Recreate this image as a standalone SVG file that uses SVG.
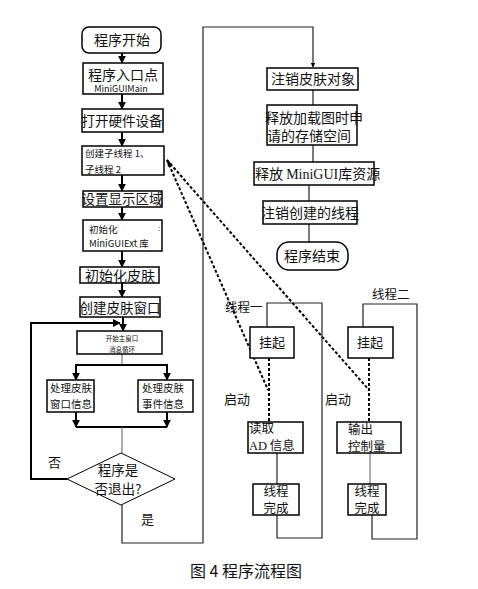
<svg xmlns="http://www.w3.org/2000/svg" width="478" height="589" viewBox="0 0 478 589">
<style>
.b{fill:#fff;stroke:#000;stroke-width:1.5}
.t{font-family:"Noto Sans CJK SC","Liberation Sans",sans-serif;fill:#111}
.s{font-family:"Liberation Serif","Noto Sans CJK SC",serif;fill:#111}
.l{fill:none;stroke:#222;stroke-width:1.2}
.a{fill:none;stroke:#000;stroke-width:2}
.d{fill:none;stroke:#000;stroke-width:2;stroke-dasharray:3,2}
.g{fill:none;stroke:#777;stroke-width:1.2}
</style>
<defs>
<marker id="ah" viewBox="0 0 10 10" refX="9" refY="5" markerWidth="4" markerHeight="4" orient="auto"><path d="M0,0L10,5L0,10z" fill="#000"/></marker>
</defs>
<rect width="478" height="589" fill="#fff"/>
<g id="connectors">
<line class="a" x1="122" y1="53" x2="122" y2="63" marker-end="url(#ah)"/>
<line class="a" x1="122" y1="94" x2="122" y2="109" marker-end="url(#ah)"/>
<line class="a" x1="122" y1="132" x2="122" y2="146" marker-end="url(#ah)"/>
<line class="a" x1="122" y1="175" x2="122" y2="191" marker-end="url(#ah)"/>
<line class="a" x1="122" y1="207" x2="122" y2="220" marker-end="url(#ah)"/>
<line class="a" x1="122" y1="251" x2="122" y2="267" marker-end="url(#ah)"/>
<line class="a" x1="122" y1="283" x2="122" y2="297" marker-end="url(#ah)"/>
<line class="a" x1="123" y1="317" x2="123" y2="331" marker-end="url(#ah)"/>
<polyline class="a" points="67,479 31,479 31,323 120,323" marker-end="url(#ah)"/>
<polyline class="g" points="122,354 122,365"/>
<polyline class="a" points="76,380 76,365 167,365 167,380"/>
<line class="a" x1="76" y1="366" x2="76" y2="380" marker-end="url(#ah)"/>
<line class="a" x1="167" y1="366" x2="167" y2="380" marker-end="url(#ah)"/>
<line class="a" x1="76" y1="412" x2="76" y2="427" marker-end="url(#ah)"/>
<line class="a" x1="167" y1="412" x2="167" y2="427" marker-end="url(#ah)"/>
<line class="a" x1="76" y1="427" x2="167" y2="427"/>
<line class="g" x1="122" y1="427" x2="122" y2="453"/>
<polyline class="l" points="122,505 122,543 203,543 203,27 313,27 313,67" marker-end="url(#ah)"/>
<line class="l" x1="313" y1="90" x2="313" y2="105"/>
<line class="l" x1="313" y1="145" x2="313" y2="162"/>
<line class="l" x1="309" y1="185" x2="309" y2="201"/>
<line class="l" x1="309" y1="224" x2="309" y2="242"/>
<line class="d" x1="167" y1="160" x2="268" y2="390"/>
<line class="d" x1="167" y1="160" x2="369" y2="390"/>
<path d="M167,160 l1,7 l4,-3z" fill="#000"/>
<polyline class="l" points="267,327 267,303 322,303 322,538 277,538 277,515"/>
<line class="d" x1="269" y1="358" x2="269" y2="422"/>
<line class="l" x1="277" y1="453" x2="277" y2="484"/>
<polyline class="l" points="363,327 363,304 417,304 417,539 372,539 372,515"/>
<line class="d" x1="369" y1="358" x2="369" y2="422"/>
<line class="g" x1="370" y1="453" x2="370" y2="484"/>
</g>
<g id="n_start"><rect class="b" x="82" y="27" width="79" height="26" rx="7"/><text class="t" x="122" y="45" font-size="14" text-anchor="middle">程序开始</text></g>
<g id="n_entry"><rect class="b" x="83" y="63" width="80" height="31"/><text class="t" x="123" y="80" font-size="14" text-anchor="middle">程序入口点</text><text class="t" x="121" y="92" font-size="9" text-anchor="middle">MiniGUIMain</text></g>
<g id="n_hw"><rect class="b" x="82" y="109" width="81" height="23"/><text class="t" x="122" y="126" font-size="13.5" text-anchor="middle">打开硬件设备</text></g>
<g id="n_thread"><rect class="b" x="82" y="146" width="82" height="29"/><text class="t" x="85" y="157" font-size="9.5">创建子线程 1、</text><text class="t" x="85" y="173" font-size="9.5">子线程 2</text></g>
<g id="n_disp"><rect class="b" x="83" y="191" width="79" height="16"/><text class="t" x="122" y="204" font-size="13.5" text-anchor="middle">设置显示区域</text></g>
<g id="n_ext"><rect class="b" x="83" y="220" width="79" height="31"/><text class="t" x="89" y="233" font-size="9.5">初始化</text><text class="t" x="158" y="231" font-size="7">:</text><text class="t" x="89" y="247" font-size="9.5">MiniGUIExt 库</text></g>
<g id="n_skin"><rect class="b" x="80" y="267" width="79" height="16"/><text class="t" x="120" y="281" font-size="14" text-anchor="middle">初始化皮肤</text></g>
<g id="n_win"><rect class="b" x="80" y="297" width="80" height="20"/><text class="t" x="120" y="313" font-size="13.5" text-anchor="middle">创建皮肤窗口</text></g>
<g id="n_loop"><rect class="b" x="77" y="331" width="85" height="23"/><text class="t" x="122" y="341" font-size="6.5" text-anchor="middle">开始主窗口</text><text class="t" x="122" y="352" font-size="6.5" text-anchor="middle">消息循环</text></g>
<g id="n_wmsg"><rect class="b" x="47" y="380" width="47" height="32"/><text class="t" x="50" y="392" font-size="10.5">处理皮肤</text><text class="t" x="50" y="408" font-size="10.5">窗口信息</text></g>
<g id="n_emsg"><rect class="b" x="138" y="380" width="55" height="32"/><text class="t" x="142" y="392" font-size="10.5">处理皮肤</text><text class="t" x="142" y="408" font-size="10.5">事件信息</text></g>
<g id="n_exit"><polygon class="b" points="121,453 175,479 121,505 67,479" style="stroke-width:1"/><text class="t" x="118" y="475" font-size="13.5" text-anchor="middle">程序是</text><text class="t" x="118" y="494" font-size="13.5" text-anchor="middle">否退出?</text></g>
<text class="t" x="48" y="467" font-size="13">否</text>
<text class="t" x="141" y="524" font-size="13">是</text>
<g id="n_unreg"><rect class="b" x="267" y="68" width="91" height="22"/><text class="t" x="313" y="84" font-size="14" text-anchor="middle">注销皮肤对象</text></g>
<g id="n_free"><rect class="b" x="267" y="105" width="90" height="40"/><text class="t" x="265" y="123" font-size="14">释放加载图时申</text><text class="t" x="267" y="141" font-size="14">请的存储空间</text></g>
<g id="n_lib"><rect class="b" x="254" y="162" width="120" height="23"/><text class="t" x="255" y="179" font-size="14">释放 <tspan class="s">MiniGUI</tspan>库资源</text></g>
<g id="n_kill"><rect class="b" x="263" y="201" width="94" height="23"/><text class="t" x="310" y="218" font-size="14" text-anchor="middle">注销创建的线程</text></g>
<g id="n_end"><rect class="b" x="277" y="242" width="71" height="28" rx="12"/><text class="t" x="312" y="261" font-size="14" text-anchor="middle">程序结束</text></g>
<text class="t" x="225" y="312" font-size="12.5">线程一</text>
<text class="t" x="372" y="299" font-size="12.5">线程二</text>
<g id="n_s1"><rect class="b" x="250" y="327" width="44" height="31"/><text class="t" x="272" y="347" font-size="13" text-anchor="middle">挂起</text></g>
<g id="n_s2"><rect class="b" x="348" y="327" width="45" height="31"/><text class="t" x="370" y="347" font-size="13" text-anchor="middle">挂起</text></g>
<text class="t" x="224" y="404" font-size="13">启动</text>
<text class="t" x="325" y="404" font-size="13">启动</text>
<g id="n_ad"><rect class="b" x="248" y="422" width="55" height="31"/><text class="t" x="249" y="433" font-size="12.5">读取</text><text class="t" x="249" y="450" font-size="12.5"><tspan class="s">AD</tspan> 信息</text></g>
<g id="n_out"><rect class="b" x="337" y="422" width="64" height="31"/><text class="t" x="348" y="434" font-size="12.5">输出</text><text class="t" x="348" y="451" font-size="12.5">控制量</text></g>
<g id="n_d1"><rect class="b" x="253" y="484" width="46" height="31"/><text class="t" x="276" y="496" font-size="12.5" text-anchor="middle">线程</text><text class="t" x="276" y="513" font-size="12.5" text-anchor="middle">完成</text></g>
<g id="n_d2"><rect class="b" x="348" y="484" width="38" height="31"/><text class="t" x="367" y="496" font-size="12.5" text-anchor="middle">线程</text><text class="t" x="367" y="513" font-size="12.5" text-anchor="middle">完成</text></g>
<text class="t" x="246" y="577" font-size="16" text-anchor="middle">图 4  程序流程图</text>
</svg>
